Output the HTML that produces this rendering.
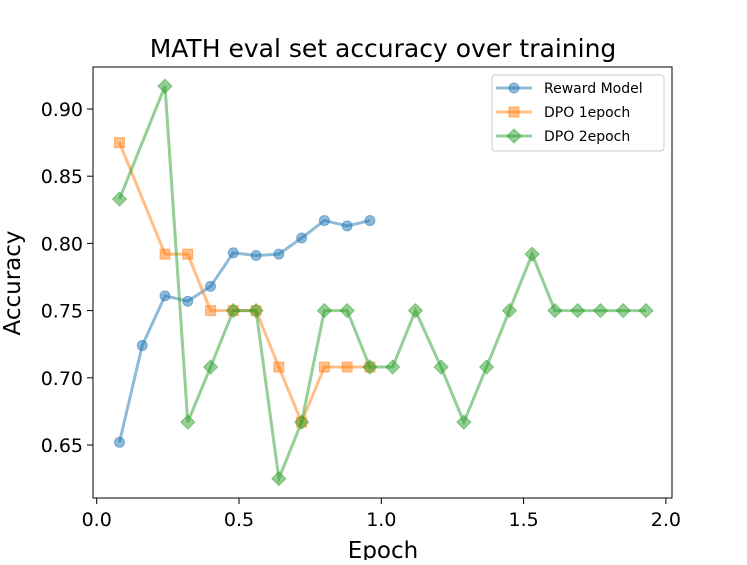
<!DOCTYPE html>
<html><head><meta charset="utf-8"><style>
body{margin:0;background:#fff}
svg text{font-family:"DejaVu Sans","Liberation Sans",sans-serif;fill:#000}
</style></head><body>
<svg width="747" height="560" xmlns="http://www.w3.org/2000/svg">
<g id="plot"></g>
</svg>
<script>
const rmX=[0.08,0.16,0.24,0.32,0.40,0.48,0.56,0.64,0.72,0.80,0.88,0.96];
const rmY=[0.652,0.724,0.761,0.757,0.768,0.793,0.791,0.792,0.804,0.817,0.813,0.817];
const d1X=[0.08,0.24,0.32,0.40,0.48,0.56,0.64,0.72,0.80,0.88,0.96];
const d1Y=[0.875,0.792,0.792,0.75,0.75,0.75,0.708,0.667,0.708,0.708,0.708];
const d2X=[0.08,0.24,0.32,0.40,0.48,0.56,0.64,0.72,0.80,0.88,0.96,1.04,1.12,1.21,1.29,1.37,1.45,1.53,1.61,1.69,1.77,1.85,1.93];
const d2Y=[0.833,0.917,0.667,0.708,0.75,0.75,0.625,0.667,0.75,0.75,0.708,0.708,0.75,0.708,0.667,0.708,0.75,0.792,0.75,0.75,0.75,0.75,0.75];
const xTicks=[0.0,0.5,1.0,1.5,2.0];
const yTicks=[0.65,0.70,0.75,0.80,0.85,0.90];
const NS="http://www.w3.org/2000/svg";
const g=document.getElementById('plot');
const L=93,R=672,T=67,B=498;
const sx=v=>96.7+v*284.6;
const sy=v=>109-(v-0.90)*1344;
function el(tag,attrs,parent){const e=document.createElementNS(NS,tag);for(const k in attrs)e.setAttribute(k,attrs[k]);(parent||g).appendChild(e);return e;}
let t=el('text',{x:383,y:57,'text-anchor':'middle','font-size':'25'});t.textContent='MATH eval set accuracy over training';


xTicks.forEach(v=>{const x=sx(v);
 const l=el('line',{x1:x,x2:x,y1:B,y2:B+6,stroke:'#000','stroke-width':1});
 
 
 const tx=el('text',{x:x,y:B+28,'text-anchor':'middle','font-size':'19'});tx.textContent=v.toFixed(1);
 
 
});
yTicks.forEach(v=>{const y=sy(v);
 const l=el('line',{x1:L-6,x2:L,y1:y,y2:y,stroke:'#000','stroke-width':1});
 
 
 const tx=el('text',{x:L-10,y:y+7,'text-anchor':'end','font-size':'19'});tx.textContent=v.toFixed(2);
 
 
});
let xl=el('text',{x:383,y:558,'text-anchor':'middle','font-size':'23'});xl.textContent='Epoch';


let yl=el('text',{x:0,y:0,'text-anchor':'middle','font-size':'23',transform:'translate(20,283) rotate(-90)'});yl.textContent='Accuracy';


function marker(kind,x,y,c,parent){
 if(kind==='o')return el('circle',{cx:x,cy:y,r:5,fill:c,'fill-opacity':0.5,stroke:c,'stroke-opacity':0.5},parent);
 if(kind==='s')return el('rect',{x:x-5,y:y-5,width:10,height:10,fill:c,'fill-opacity':0.5,stroke:c,'stroke-opacity':0.5},parent);
 return el('polygon',{points:`${x},${y-7} ${x+7},${y} ${x},${y+7} ${x-7},${y}`,fill:c,'fill-opacity':0.5,stroke:c,'stroke-opacity':0.5},parent);
}
function series(xs,ys,c,kind,name){
 const sg=el('g',{});
 
 
 el('polyline',{points:xs.map((x,i)=>sx(x)+','+sy(ys[i])).join(' '),fill:'none',stroke:c,'stroke-opacity':0.5,'stroke-width':3},sg);
 xs.forEach((x,i)=>{const m=marker(kind,sx(x),sy(ys[i]),c,sg);
  
  });
}
series(rmX,rmY,'#1f77b4','o','reward-model-series');
series(d1X,d1Y,'#ff7f0e','s','dpo-1epoch-series');
series(d2X,d2Y,'#2ca02c','d','dpo-2epoch-series');
let fr=el('rect',{x:L,y:T,width:R-L,height:B-T,fill:'none',stroke:'#000','stroke-width':1});


const lg=el('g',{});


el('rect',{x:492,y:75,width:172,height:76,rx:3,fill:'#fff','fill-opacity':0.8,stroke:'#ccc'},lg);
[['Reward Model','#1f77b4','o'],['DPO 1epoch','#ff7f0e','s'],['DPO 2epoch','#2ca02c','d']].forEach((e,i)=>{
 const y=88+i*24;
 const eg=el('g',{},lg);
 
 
 el('line',{x1:496,x2:532,y1:y,y2:y,stroke:e[1],'stroke-opacity':0.5,'stroke-width':3},eg);
 marker(e[2],514,y,e[1],eg);
 const tx=el('text',{x:544,y:y+5,'font-size':'14'},eg);tx.textContent=e[0];
});
</script>
</body></html>
